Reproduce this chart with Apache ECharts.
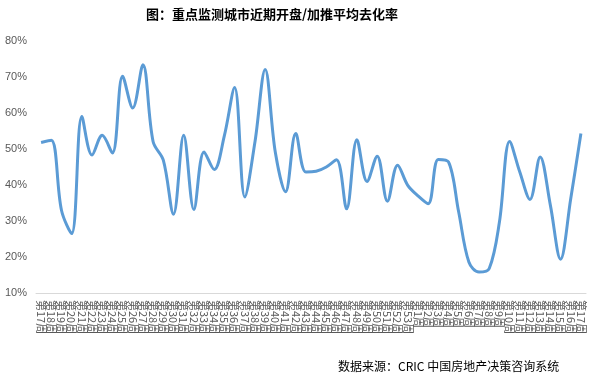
<!DOCTYPE html>
<html>
<head>
<meta charset="utf-8">
<script src="https://cdn.jsdelivr.net/npm/echarts@6/dist/echarts.min.js"></script>
<style>
html,body{margin:0;padding:0;background:#fff;}
#chart{width:598px;height:380px;}
</style>
</head>
<body>
<div id="chart"></div>
<script>
const titleText = '图：重点监测城市近期开盘/加推平均去化率';
const sourceText = '数据来源：CRIC 中国房地产决策咨询系统';
const weeks = ['第17周','第18周','第19周','第20周','第21周','第22周','第23周','第24周','第25周','第26周',
  '第27周','第28周','第29周','第30周','第31周','第32周','第33周','第34周','第35周','第36周',
  '第37周','第38周','第39周','第40周','第41周','第42周','第43周','第44周','第45周','第46周',
  '第47周','第48周','第49周','第50周','第51周','第52周','第53周',
  '第1周','第2周','第3周','第4周','第5周','第6周','第7周','第8周','第9周','第10周',
  '第11周','第12周','第13周','第14周','第15周','第16周','第17周'];
const rates = [51.8,52.4,33,26.5,59,48.3,53.8,48.9,70.2,61.4,
  73.4,52,46.9,31.9,53.8,33.2,49.2,44.3,53.8,67.1,
  36.7,52,72.1,49,38.1,54.3,43.6,43.8,45,47,
  33.4,52.6,41,48,35.5,45.5,39.9,
  37,34.8,47.1,46.4,32.5,18.6,15.8,16.8,29.7,52.1,
  43.6,36,47.8,34.4,19.4,36.2,54.3];
const yTicks = [10,20,30,40,50,60,70,80];

const chart = echarts.init(document.getElementById('chart'), null, {renderer:'canvas'});
chart.setOption({
  animation:false,
  title:[{
    text:titleText, left:141, top:3,
    textStyle:{fontSize:13, fontWeight:'bold', color:'#000', fontFamily:'Noto Sans CJK SC'}
  },{
    text:sourceText, left:333, top:355,
    textStyle:{fontSize:12, fontWeight:'normal', color:'#000', fontFamily:'Noto Sans CJK SC'}
  }],
  grid:{left:36, right:12, top:41, bottom:87, containLabel:false},
  xAxis:{
    type:'category', data:weeks, boundaryGap:true,
    axisLine:{lineStyle:{color:'#d9d9d9', width:1}},
    axisTick:{show:false},
    axisLabel:{rotate:-90, interval:0, fontSize:11, color:'#595959', margin:7, fontFamily:'Noto Sans CJK SC'},
    splitLine:{show:false}
  },
  yAxis:{
    type:'value', min:yTicks[0], max:yTicks[yTicks.length-1], interval:10,
    axisLine:{show:false}, axisTick:{show:false}, splitLine:{show:false},
    axisLabel:{formatter:'{value}%', align:'left', margin:31, fontSize:11, color:'#595959', fontFamily:'Liberation Sans'}
  },
  series:[{
    type:'line', data:rates, smooth:0.35, showSymbol:false,
    lineStyle:{color:'#5B9BD5', width:3},
    itemStyle:{color:'#5B9BD5'}
  }]
});
</script>
</body>
</html>
